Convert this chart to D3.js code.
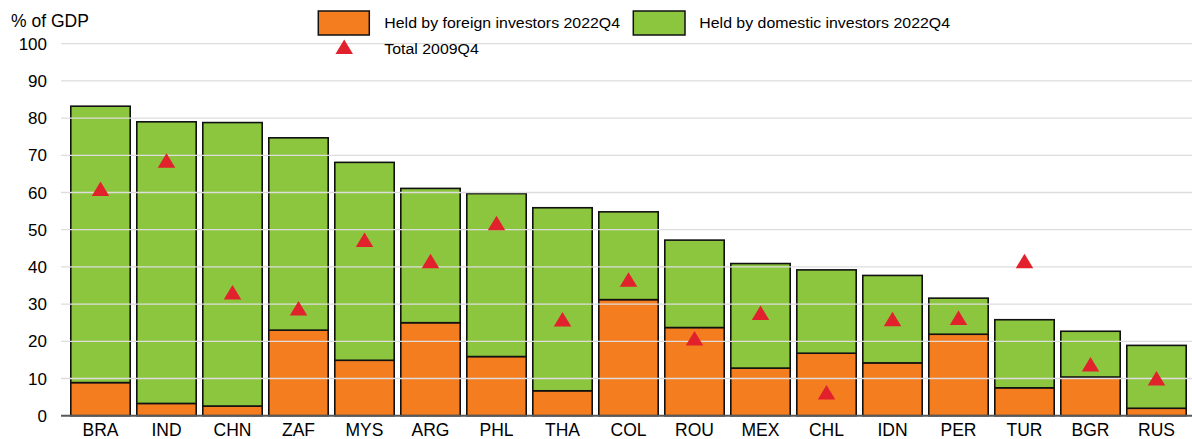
<!DOCTYPE html>
<html>
<head>
<meta charset="utf-8">
<script src="https://cdn.jsdelivr.net/npm/d3@7"></script>
<style>
  html, body { margin: 0; padding: 0; background: #fff; }
  svg { display: block; font-family: "Liberation Sans", Arial, sans-serif; }
</style>
</head>
<body>
<svg id="chart" width="1192" height="439"></svg>
<script>
// Government debt held by investors, % of GDP
const categories = ["BRA","IND","CHN","ZAF","MYS","ARG","PHL","THA","COL","ROU","MEX","CHL","IDN","PER","TUR","BGR","RUS"];
const foreign2022 = [8.9, 3.3, 2.6, 23.0, 14.9, 25.0, 15.9, 6.7, 31.2, 23.7, 12.8, 16.8, 14.2, 21.9, 7.5, 10.4, 2.0];
const domestic2022 = [74.3, 75.7, 76.2, 51.7, 53.2, 36.1, 43.8, 49.2, 23.6, 23.5, 28.1, 22.4, 23.5, 9.7, 18.3, 12.3, 16.9];
const total2009 = [61.0, 68.6, 33.2, 28.9, 47.3, 41.6, 51.8, 25.9, 36.6, 20.8, 27.7, 6.3, 26.0, 26.3, 41.6, 13.8, 10.1];
const yTicks = [0, 10, 20, 30, 40, 50, 60, 70, 80, 90, 100];

const legendLabels = {
  foreign: "Held by foreign investors 2022Q4",
  domestic: "Held by domestic investors 2022Q4",
  total: "Total 2009Q4"
};

const colors = { foreign: "#F47D20", domestic: "#8CC63F", total: "#E1212B" };

const rows = categories.map((c, i) => ({
  cat: c, foreign: foreign2022[i], domestic: domestic2022[i], total09: total2009[i]
}));

const svg = d3.select("#chart");

const x = d3.scaleBand()
  .domain(categories)
  .range([67.5, 1189.5])
  .paddingInner(0.1)
  .paddingOuter(0.05);

const y = d3.scaleLinear().domain([0, 100]).range([415.7, 43.7]);

const stack = d3.stack().keys(["foreign", "domestic"]);
const series = stack(rows);

// stacked bars
svg.append("g").selectAll("g")
  .data(series)
  .join("g")
  .attr("fill", d => colors[d.key])
  .selectAll("rect")
  .data(d => d)
  .join("rect")
  .attr("x", d => x(d.data.cat))
  .attr("width", x.bandwidth())
  .attr("y", d => y(d[1]))
  .attr("height", d => y(d[0]) - y(d[1]))
  .attr("stroke", "#111")
  .attr("stroke-width", 1.6);

// horizontal gridlines, drawn over the bars
svg.append("g").selectAll("line")
  .data(yTicks.filter(t => t > 0))
  .join("line")
  .attr("x1", 61).attr("x2", 1192)
  .attr("y1", d => y(d)).attr("y2", d => y(d))
  .attr("stroke", "#dddddd")
  .attr("stroke-width", 1.3);

// zero baseline
svg.append("line")
  .attr("x1", 61).attr("x2", 1192)
  .attr("y1", y(0)).attr("y2", y(0))
  .attr("stroke", "#595959")
  .attr("stroke-width", 2);

// y-axis tick labels
svg.append("g").selectAll("text")
  .data(yTicks)
  .join("text")
  .attr("x", 47)
  .attr("y", d => y(d))
  .attr("dy", "0.36em")
  .attr("text-anchor", "end")
  .attr("font-size", 17)
  .attr("fill", "#000")
  .text(d => d);

svg.append("text")
  .attr("x", 11).attr("y", 26.5)
  .attr("font-size", 17.5)
  .attr("fill", "#000")
  .text("% of GDP");

// category labels
svg.append("g").selectAll("text")
  .data(categories)
  .join("text")
  .attr("x", d => x(d) + x.bandwidth() / 2)
  .attr("y", 436)
  .attr("text-anchor", "middle")
  .attr("font-size", 17.5)
  .attr("fill", "#000")
  .text(d => d);

// triangle marker centred on its bounding box
const triW = 17.5, triH = 14.5;
const triPath = `M0,${-triH / 2}L${triW / 2},${triH / 2}L${-triW / 2},${triH / 2}Z`;

svg.append("g").selectAll("path")
  .data(rows)
  .join("path")
  .attr("d", triPath)
  .attr("transform", d => `translate(${x(d.cat) + x.bandwidth() / 2},${y(d.total09)})`)
  .attr("fill", colors.total);

// legend
const legend = svg.append("g");
const legendText = (tx, ty, label) => legend.append("g")
  .attr("transform", `translate(${tx},${ty}) scale(1.06,1)`)
  .append("text")
  .attr("font-size", 15)
  .attr("fill", "#000")
  .text(label);

legend.append("rect")
  .attr("x", 318.3).attr("y", 11).attr("width", 51).attr("height", 24)
  .attr("fill", colors.foreign).attr("stroke", "#111").attr("stroke-width", 1.5);
legendText(384.3, 28.3, legendLabels.foreign);

legend.append("rect")
  .attr("x", 633.3).attr("y", 11).attr("width", 51.7).attr("height", 24)
  .attr("fill", colors.domestic).attr("stroke", "#111").attr("stroke-width", 1.5);
legendText(699.3, 28.3, legendLabels.domestic);

legend.append("path")
  .attr("d", triPath)
  .attr("transform", "translate(344.2,46.7)")
  .attr("fill", colors.total);
legendText(384.3, 54.3, legendLabels.total);
</script>
</body>
</html>
